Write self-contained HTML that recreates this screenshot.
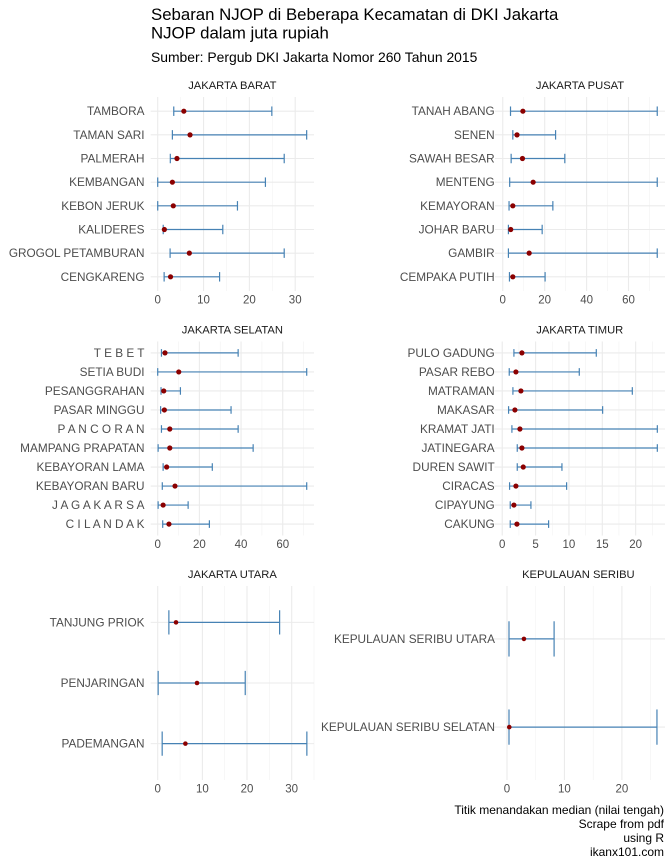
<!DOCTYPE html>
<html><head><meta charset="utf-8">
<style>
html,body{margin:0;padding:0;background:#fff;}
svg{display:block;font-family:"Liberation Sans",sans-serif;}
</style></head>
<body>
<svg id="chart" width="672" height="864" viewBox="0 0 672 864" xmlns="http://www.w3.org/2000/svg">
<text x="151" y="20" font-size="16.8" fill="#000">Sebaran NJOP di Beberapa Kecamatan di DKI Jakarta</text>
<text x="151" y="38.5" font-size="16.8" fill="#000">NJOP dalam juta rupiah</text>
<text x="151" y="62" font-size="13.9" fill="#000">Sumber: Pergub DKI Jakarta Nomor 260 Tahun 2015</text>
<g font-size="12" fill="#000" text-anchor="end">
<text x="664" y="814">Titik menandakan median (nilai tengah)</text>
<text x="664" y="828">Scrape from pdf</text>
<text x="664" y="842">using R</text>
<text x="664" y="856">ikanx101.com</text>
</g>
<g id="panels"></g>
</svg>
<script>
const baratNames = ["TAMBORA","TAMAN SARI","PALMERAH","KEMBANGAN","KEBON JERUK","KALIDERES","GROGOL PETAMBURAN","CENGKARENG"];
const baratMin = [3.5,3.2,2.75,0,0,1.2,2.7,1.4];
const baratMed = [5.7,7.05,4.2,3.2,3.4,1.45,6.9,2.8];
const baratMax = [24.9,32.5,27.6,23.5,17.4,14.2,27.6,13.5];
const baratTicks = [0,10,20,30];

const pusatNames = ["TANAH ABANG","SENEN","SAWAH BESAR","MENTENG","KEMAYORAN","JOHAR BARU","GAMBIR","CEMPAKA PUTIH"];
const pusatMin = [3.7,4.8,4,3.3,3,2.7,2.7,3.2];
const pusatMed = [9.6,6.8,9.4,14.5,4.8,3.8,12.6,4.8];
const pusatMax = [73.7,25.2,29.6,73.7,23.9,18.8,73.7,20.2];
const pusatTicks = [0,20,40,60];

const selatanNames = ["T E B E T","SETIA BUDI","PESANGGRAHAN","PASAR MINGGU","P A N C O R A N","MAMPANG PRAPATAN","KEBAYORAN LAMA","KEBAYORAN BARU","J A G A K A R S A","C I L A N D A K"];
const selatanMin = [1.8,0,1.6,1.4,1.8,0.2,2.6,2.2,0.2,2.4];
const selatanMed = [3.5,10.1,2.9,3.2,5.8,5.8,4.3,8.3,2.6,5.4];
const selatanMax = [38.6,71.5,10.9,35.2,38.6,45.8,26.2,71.5,14.6,24.8];
const selatanTicks = [0,20,40,60];

const timurNames = ["PULO GADUNG","PASAR REBO","MATRAMAN","MAKASAR","KRAMAT JATI","JATINEGARA","DUREN SAWIT","CIRACAS","CIPAYUNG","CAKUNG"];
const timurMin = [1.75,1.05,1.6,0.95,1.45,2.25,2.25,1.1,1.2,1.2];
const timurMed = [2.95,2.05,2.8,1.9,2.65,2.95,3.15,2.05,1.75,2.2];
const timurMax = [14.1,11.55,19.5,15.05,23.25,23.25,8.95,9.65,4.3,6.95];
const timurTicks = [0,5,10,15,20];

const utaraNames = ["TANJUNG PRIOK","PENJARINGAN","PADEMANGAN"];
const utaraMin = [2.5,0.1,1.0];
const utaraMed = [4.1,8.8,6.2];
const utaraMax = [27.3,19.6,33.4];
const utaraTicks = [0,10,20,30];

const seribuNames = ["KEPULAUAN SERIBU UTARA","KEPULAUAN SERIBU SELATAN"];
const seribuMin = [0.35,0.35];
const seribuMed = [2.95,0.4];
const seribuMax = [8.2,26.1];
const seribuTicks = [0,10,20];

const panels = [
  {key:"jakarta-barat",title:"JAKARTA BARAT",names:baratNames,mn:baratMin,md:baratMed,mx:baratMax,ticks:baratTicks,L:150.7,R:314,T:97,B:291,lo:-1.53,hi:34.1,lx:144.5},
  {key:"jakarta-pusat",title:"JAKARTA PUSAT",names:pusatNames,mn:pusatMin,md:pusatMed,mx:pusatMax,ticks:pusatTicks,L:495,R:665,T:97,B:291,lo:-3.7,hi:77.4,lx:494.7},
  {key:"jakarta-selatan",title:"JAKARTA SELATAN",names:selatanNames,mn:selatanMin,md:selatanMed,mx:selatanMax,ticks:selatanTicks,L:150.7,R:314,T:341.5,B:535.5,lo:-3.36,hi:75.0,lx:144.5},
  {key:"jakarta-timur",title:"JAKARTA TIMUR",names:timurNames,mn:timurMin,md:timurMed,mx:timurMax,ticks:timurTicks,L:494.5,R:665,T:341.5,B:535.5,lo:-1.16,hi:24.4,lx:494.7},
  {key:"jakarta-utara",title:"JAKARTA UTARA",names:utaraNames,mn:utaraMin,md:utaraMed,mx:utaraMax,ticks:utaraTicks,L:150.7,R:314,T:586,B:780,lo:-1.57,hi:35.0,lx:144.5},
  {key:"kepulauan-seribu",title:"KEPULAUAN SERIBU",names:seribuNames,mn:seribuMin,md:seribuMed,mx:seribuMax,ticks:seribuTicks,L:491.7,R:665,T:586,B:780,lo:-2.66,hi:27.5,lx:495}
];

const NS = "http://www.w3.org/2000/svg";
const root = document.getElementById("panels");
function mk(tag, attrs, parent){
  const e = document.createElementNS(NS, tag);
  for (const k in attrs) e.setAttribute(k, attrs[k]);
  parent.appendChild(e);
  return e;
}
panels.forEach(p => {
  const g = mk("g", {}, root);
  
  
  const xs = v => p.L + (v - p.lo) / (p.hi - p.lo) * (p.R - p.L);
  const n = p.names.length;
  const step = (p.B - p.T) / (n - 1 + 1.2);
  const ys = i => p.T + step * (0.6 + i);
  const tstep = p.ticks[1] - p.ticks[0];
  for (let v = p.ticks[0] - tstep/2; v <= p.hi; v += tstep) {
    if (v < p.lo) continue;
    const l = mk("line", {x1:xs(v),x2:xs(v),y1:p.T,y2:p.B,stroke:"#f2f2f2","stroke-width":0.6}, g);
    
    
  }
  p.ticks.forEach(v => {
    const l = mk("line", {x1:xs(v),x2:xs(v),y1:p.T,y2:p.B,stroke:"#ebebeb","stroke-width":1.1}, g);
    
    
    const t = mk("text", {x:xs(v),y:p.B+12.5,"font-size":11.5,fill:"#4d4d4d","text-anchor":"middle"}, g);
    t.textContent = v;
    
    
  });
  for (let i = 0; i < n; i++) {
    const y = ys(i);
    const l = mk("line", {x1:p.L,x2:p.R,y1:y,y2:y,stroke:"#ebebeb","stroke-width":1.1}, g);
    
    
  }
  const st = mk("text", {x:(p.L+p.R)/2,y:p.T-8,"font-size":11.2,fill:"#1a1a1a","text-anchor":"middle"}, g);
  st.textContent = p.title;
  
  
  const cap = step * 0.2;
  const r = n <= 3 ? 2.3 : 2.6;
  for (let i = 0; i < n; i++) {
    const y = ys(i);
    const lab = mk("text", {x:p.lx,y:y+4,"font-size":11.8,fill:"#4d4d4d","text-anchor":"end"}, g);
    lab.textContent = p.names[i];
    
    
    const eb = mk("g", {stroke:"#4682b4","stroke-width":1.2,fill:"none"}, g);
    
    
    mk("line", {x1:xs(p.mn[i]),x2:xs(p.mx[i]),y1:y,y2:y}, eb);
    mk("line", {x1:xs(p.mn[i]),x2:xs(p.mn[i]),y1:y-cap,y2:y+cap}, eb);
    mk("line", {x1:xs(p.mx[i]),x2:xs(p.mx[i]),y1:y-cap,y2:y+cap}, eb);
    const c = mk("circle", {cx:xs(p.md[i]),cy:y,r:r,fill:"#8b0000"}, g);
    
    
  }
});
</script>
</body></html>
